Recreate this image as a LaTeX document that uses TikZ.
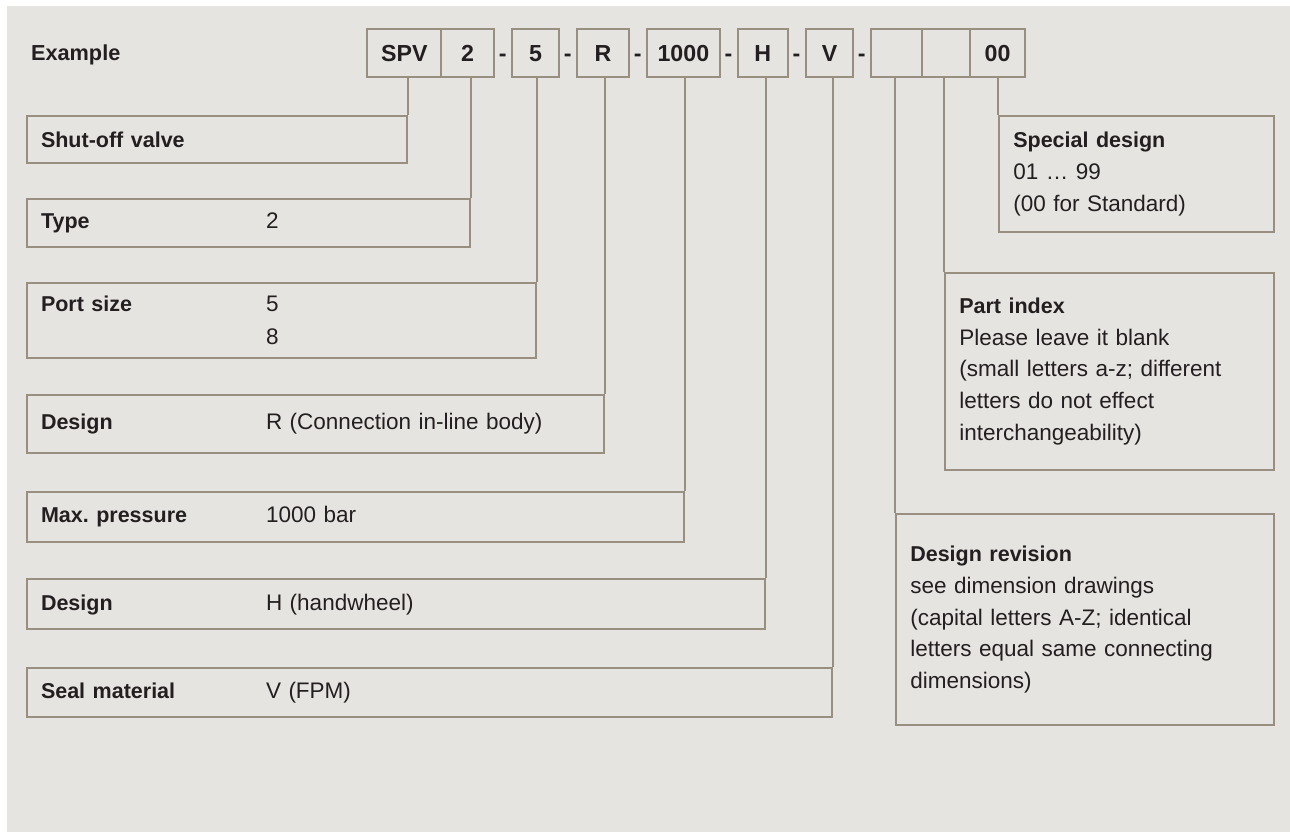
\documentclass[tikz,border=0pt]{standalone}
\usepackage{fontspec}
\setmainfont{Liberation Sans}
\usepackage{tikz}
\frenchspacing
\definecolor{panelgrey}{RGB}{230,228,224}
\definecolor{framebrown}{RGB}{152,143,128}
\definecolor{inkblack}{RGB}{35,31,32}
\newcommand{\lbl}[1]{\makebox[112.5pt][l]{\fontsize{10.75}{15.85}\selectfont\bfseries #1}}
\newcommand{\boxhead}[1]{{\fontsize{10.75}{15.85}\selectfont\bfseries #1}}
\newcommand{\drawcodebox}[4]{
  \node[codebox,minimum width={(#3-#2)*0.5pt}] (#1) at ({(#2+#3)/2},52.7) {#4};
}
\newcommand{\drawleftbox}[6]{
  \node[leftbox,minimum width={(#4-26)*0.5pt},text width={(#4-54)*0.5pt},minimum height={(#3-#2)*0.5pt}] (#1) at (26,#2) {\lbl{#5}#6};
}
\newcommand{\drawrightbox}[5]{
  \node[rightbox,minimum width={(1273.3-#2)*0.5pt},text width={(1245.3-#2)*0.5pt},minimum height={(#4-#3)*0.5pt}] (#1) at (#2,#3) {#5};
}

\begin{document}
\begin{tikzpicture}[x=0.5pt,y=-0.5pt,
    every node/.style={text=inkblack},
    codebox/.style={draw=framebrown,line width=1pt,minimum height=24pt,inner sep=0pt,
      font=\fontsize{11.6}{14}\selectfont\bfseries,text height=8.3pt,text depth=0pt},
    dashsym/.style={inner sep=0pt,font=\fontsize{11.6}{14}\selectfont\bfseries,text height=8.3pt,text depth=0pt},
    leftbox/.style={draw=framebrown,line width=1pt,anchor=north west,inner xsep=7pt,inner ysep=0pt,
      align=left,font=\fontsize{11.25}{16.35}\selectfont},
    rightbox/.style={draw=framebrown,line width=1pt,anchor=north west,inner xsep=7pt,inner ysep=0pt,
      align=left,font=\fontsize{11.25}{15.85}\selectfont},
    stem/.style={draw=framebrown,line width=1pt}]
      \useasboundingbox (0,0) rectangle (1290,832);
      \fill[white] (0,0) rectangle (1290,832);
      \fill[panelgrey] (7,6) rectangle (1290,832);

      \node[anchor=west,inner sep=0pt,font=\fontsize{10.85}{14}\selectfont\bfseries,
        text height=7.8pt,text depth=0pt] (example) at (30.7,52.7) {Example};

      % order code
      \drawcodebox{spv}{367.3}{441.3}{SPV}
      \drawcodebox{ctype}{441.3}{494}{2}
      \node[dashsym] (dashA) at (502.7,52.7) {-};
      \drawcodebox{cport}{511.7}{559.3}{5}
      \node[dashsym] (dashB) at (567.7,52.7) {-};
      \drawcodebox{cdes}{576.7}{629.3}{R}
      \node[dashsym] (dashC) at (637.7,52.7) {-};
      \drawcodebox{cpres}{646.7}{720}{1000}
      \node[dashsym] (dashD) at (728.5,52.7) {-};
      \drawcodebox{chand}{737.7}{788}{H}
      \node[dashsym] (dashE) at (796.5,52.7) {-};
      \drawcodebox{cseal}{805.7}{853.3}{V}
      \node[dashsym] (dashF) at (861.7,52.7) {-};
      \drawcodebox{crev}{871}{922.3}{}
      \drawcodebox{cidx}{922.3}{970}{}
      \drawcodebox{cspec}{970}{1025}{00}

      % left column
      \drawleftbox{shutoff}{114.7}{162.3}{405.7}{Shut-off valve}{}
      \drawleftbox{type}{198.3}{246}{468.7}{Type}{2}
      \drawleftbox{port}{281.7}{357.3}{535.3}{Port size}{5\\\lbl{}8}
      \drawleftbox{design}{394}{451.7}{602.7}{Design}{R (Connection in-line body)}
      \drawleftbox{pressure}{491}{540.7}{683.3}{Max. pressure}{1000 bar}
      \drawleftbox{handle}{578.3}{628.3}{764}{Design}{H (handwheel)}
      \drawleftbox{seal}{666.7}{716}{830.7}{Seal material}{V (FPM)}

      % right column
      \drawrightbox{special}{998.3}{115}{230.7}{\boxhead{Special design}\\01 … 99\\(00 for Standard)}
      \drawrightbox{partidx}{944.3}{272}{469}{\boxhead{Part index}\\Please leave it blank\\(small letters a-z; different\\letters do not effect\\interchangeability)}
      \drawrightbox{revision}{895.3}{513.3}{724.3}{\boxhead{Design revision}\\see dimension drawings\\(capital letters A-Z; identical\\letters equal same connecting\\dimensions)}

      % stems
      \draw[stem] (shutoff.north east) -- (shutoff.north east |- spv.south);
      \draw[stem] (type.north east) -- (type.north east |- ctype.south);
      \draw[stem] (port.north east) -- (port.north east |- cport.south);
      \draw[stem] (design.north east) -- (design.north east |- cdes.south);
      \draw[stem] (pressure.north east) -- (pressure.north east |- cpres.south);
      \draw[stem] (handle.north east) -- (handle.north east |- chand.south);
      \draw[stem] (seal.north east) -- (seal.north east |- cseal.south);
      \draw[stem] (revision.north west) -- (revision.north west |- crev.south);
      \draw[stem] (partidx.north west) -- (partidx.north west |- cidx.south);
      \draw[stem] (special.north west) -- (special.north west |- cspec.south);
\end{tikzpicture}
\end{document}
